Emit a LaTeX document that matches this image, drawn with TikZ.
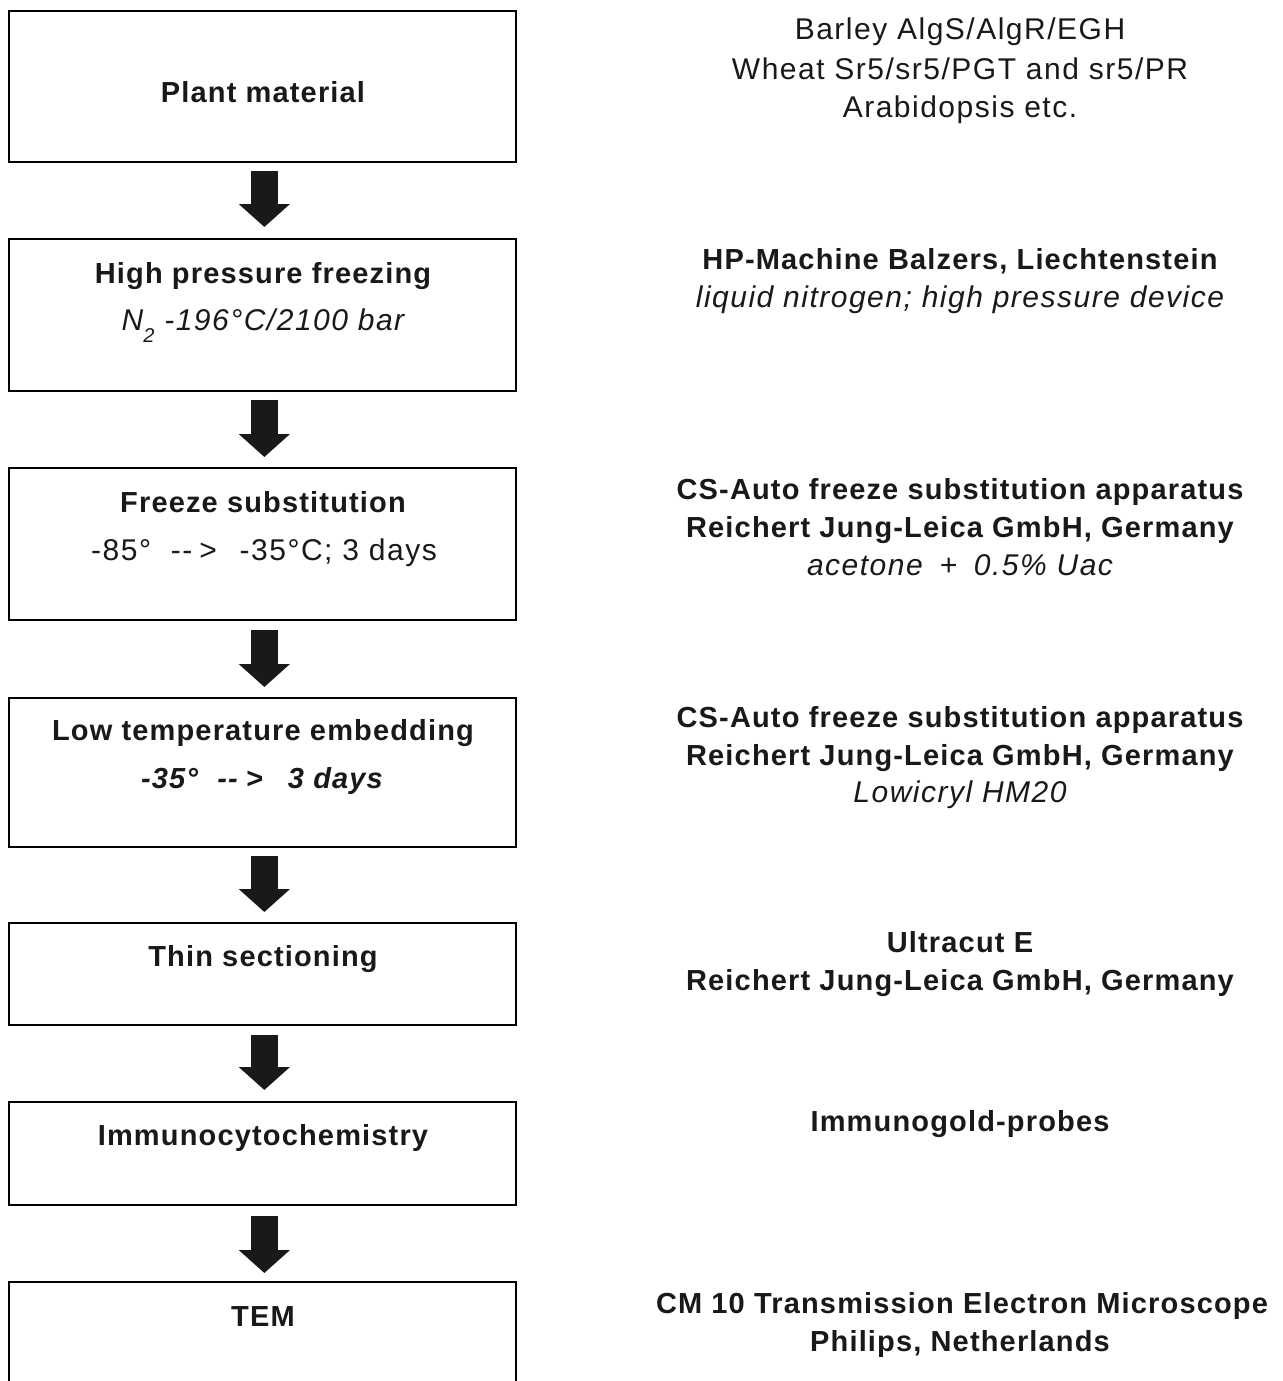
\documentclass[tikz,border=0pt]{standalone}
\usepackage{fontspec}
\setmainfont{Liberation Sans}[LetterSpace=5, BoldFeatures={LetterSpace=4}, BoldItalicFeatures={LetterSpace=4}]
\usetikzlibrary{arrows.meta}
\tikzset{
  stepbox/.style={draw=black, line width=1.7pt, minimum width=507pt, inner sep=0pt, anchor=north west},
  txt/.style={anchor=base, inner sep=0pt, text=black!90},
  bf/.style={txt, font=\fontsize{29}{32}\selectfont\bfseries},
  it/.style={txt, font=\fontsize{30}{32}\selectfont\itshape},
  bfit/.style={txt, font=\fontsize{29}{32}\selectfont\bfseries\itshape},
  rg/.style={txt, font=\fontsize{30}{32}\selectfont},
  flowarrow/.style={line width=27pt, black!90, -{Triangle[width=50pt,length=23pt]}}
}
\begin{document}
\begin{tikzpicture}[x=1pt,y=-1pt]
\useasboundingbox[fill=white] (0,0) rectangle (1282,1381);
% boxes
\node[stepbox, minimum height=151pt] (b1) at (8,10) {};
\node[stepbox, minimum height=152pt] (b2) at (8,238) {};
\node[stepbox, minimum height=152pt] (b3) at (8,467) {};
\node[stepbox, minimum height=149pt] (b4) at (8,697) {};
\node[stepbox, minimum height=102pt] (b5) at (8,922) {};
\node[stepbox, minimum height=103pt] (b6) at (8,1101) {};
\node[stepbox, minimum height=150pt] (b7) at (8,1281) {};
% arrows
\draw[flowarrow] ([xshift=2pt,yshift=-8pt]b1.south) -- ([xshift=2pt,yshift=11pt]b2.north);
\draw[flowarrow] ([xshift=2pt,yshift=-8pt]b2.south) -- ([xshift=2pt,yshift=10pt]b3.north);
\draw[flowarrow] ([xshift=2pt,yshift=-9pt]b3.south) -- ([xshift=2pt,yshift=10pt]b4.north);
\draw[flowarrow] ([xshift=2pt,yshift=-8pt]b4.south) -- ([xshift=2pt,yshift=10pt]b5.north);
\draw[flowarrow] ([xshift=2pt,yshift=-9pt]b5.south) -- ([xshift=2pt,yshift=11pt]b6.north);
\draw[flowarrow] ([xshift=2pt,yshift=-10pt]b6.south) -- ([xshift=2pt,yshift=8pt]b7.north);
% left texts
\node[bf] (t1) at (263,102) {Plant material};
\node[bf] (t2a) at (263,283) {High pressure freezing};
\node[it] (t2b) at (263,330) {N\raisebox{-0.42em}{\fontsize{20}{20}\selectfont 2} -196°C/2100 bar};
\node[bf] (t3a) at (263,512) {Freeze substitution};
\node[rg] (t3b) at (264,560) {-85°\hspace{10pt} -{}-\hspace{7pt}> \hspace{13pt}-35°C; 3 days};
\node[bf] (t4a) at (263,740) {Low temperature embedding};
\node[bfit] (t4b) at (262,788) {-35°\hspace{10pt} -{}-\hspace{8pt}> \hspace{16pt}3 days};
\node[bf] (t5) at (263,966) {Thin sectioning};
\node[bf] (t6) at (263,1145) {Immunocytochemistry};
\node[bf] (t7) at (263,1326) {TEM};
% right texts
\node[rg] (r1a) at (960,40) {Barley AlgS/AlgR/EGH};
\node[rg] (r1b) at (960,79) {Wheat Sr5/sr5/PGT and sr5/PR};
\node[rg] (r1c) at (960,117) {Arabidopsis etc.};
\node[bf] (r2a) at (960,269) {HP-Machine Balzers, Liechtenstein};
\node[it] (r2b) at (960,307) {liquid nitrogen; high pressure device};
\node[bf] (r3a) at (960,499) {CS-Auto freeze substitution apparatus};
\node[bf] (r3b) at (960,537) {Reichert Jung-Leica GmbH, Germany};
\node[it] (r3c) at (960,575) {acetone \hspace{7pt}+\hspace{7pt} 0.5\% Uac};
\node[bf] (r4a) at (960,727) {CS-Auto freeze substitution apparatus};
\node[bf] (r4b) at (960,765) {Reichert Jung-Leica GmbH, Germany};
\node[it] (r4c) at (960,802) {Lowicryl HM20};
\node[bf] (r5a) at (960,952) {Ultracut E};
\node[bf] (r5b) at (960,990) {Reichert Jung-Leica GmbH, Germany};
\node[bf] (r6) at (960,1131) {Immunogold-probes};
\node[bf] (r7a) at (962,1313) {CM 10 Transmission Electron Microscope};
\node[bf] (r7b) at (960,1351) {Philips, Netherlands};
\end{tikzpicture}
\end{document}
